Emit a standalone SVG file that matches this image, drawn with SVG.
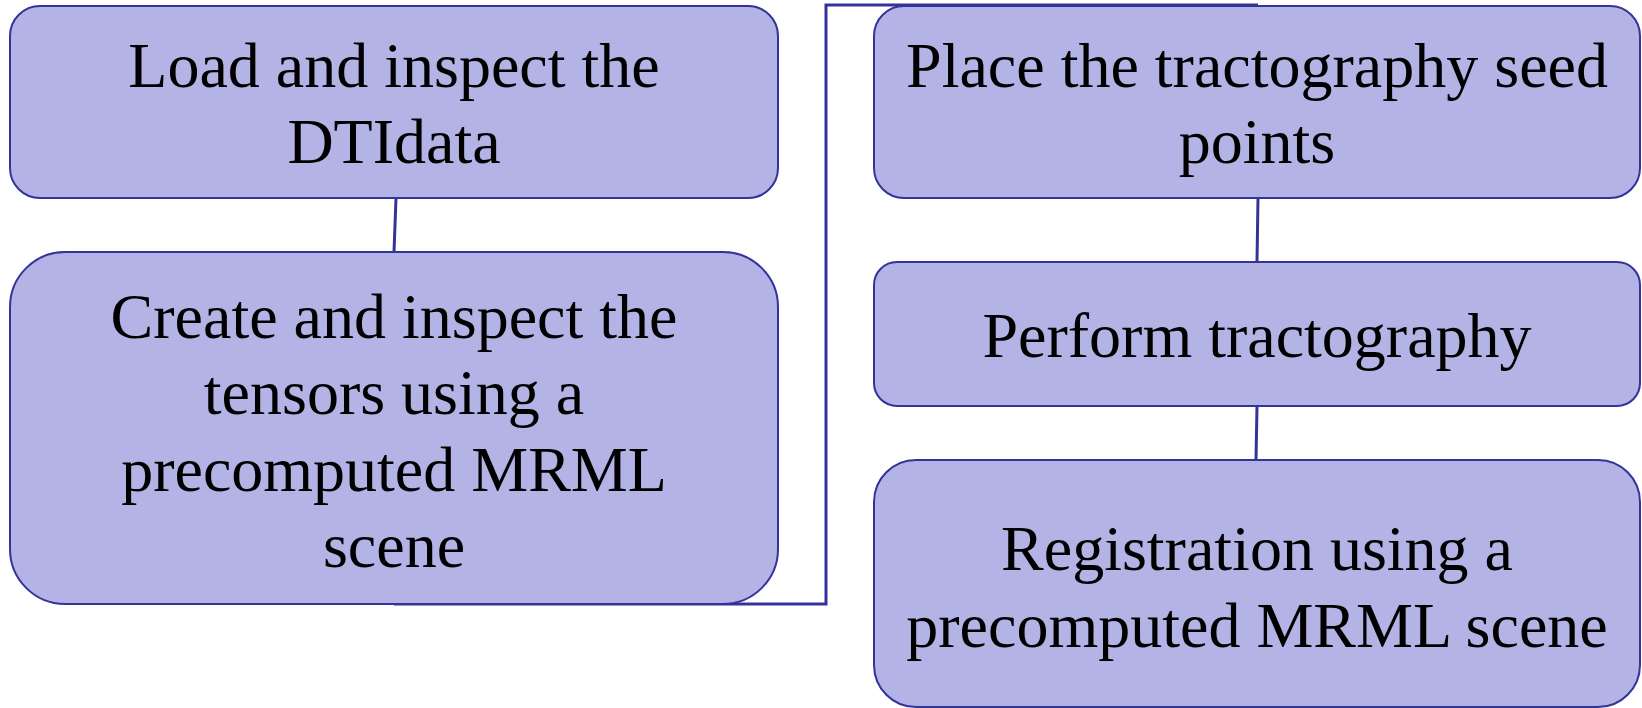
<svg xmlns="http://www.w3.org/2000/svg" width="1642" height="708" viewBox="0 0 1642 708">
<style>
.box{fill:#b3b3e6;stroke:#333399;stroke-width:2}
.lbl{font-family:"Liberation Serif","Times New Roman",serif;font-size:64px;fill:#000;text-anchor:middle}
.conn{fill:none;stroke:#333399;stroke-width:3}
</style>
<rect width="1642" height="708" fill="#fff"/>
<g id="connectors">
<path class="conn" d="M396 198 L394 252"/>
<path class="conn" d="M394 604 L826 604 L826 5 L1258 5"/>
<path class="conn" d="M1258 198 L1257 262"/>
<path class="conn" d="M1257 406 L1256 460"/>
</g>
<g id="n1">
<rect class="box" x="10" y="6" width="768" height="192" rx="30" ry="30"/>
<text class="lbl" x="394" y="87">Load and inspect the</text>
<text class="lbl" x="394" y="163">DTIdata</text>
</g>
<g id="n2">
<rect class="box" x="10" y="252" width="768" height="352" rx="55" ry="55"/>
<text class="lbl" x="394" y="338">Create and inspect the</text>
<text class="lbl" x="394" y="414">tensors using a</text>
<text class="lbl" x="394" y="491">precomputed MRML</text>
<text class="lbl" x="394" y="567">scene</text>
</g>
<g id="n3">
<rect class="box" x="874" y="6" width="766" height="192" rx="30" ry="30"/>
<text class="lbl" x="1257" y="87">Place the tractography seed</text>
<text class="lbl" x="1257" y="163">points</text>
</g>
<g id="n4">
<rect class="box" x="874" y="262" width="766" height="144" rx="23" ry="23"/>
<text class="lbl" x="1257" y="357">Perform tractography</text>
</g>
<g id="n5">
<rect class="box" x="874" y="460" width="766" height="247" rx="42" ry="42"/>
<text class="lbl" x="1257" y="570">Registration using a</text>
<text class="lbl" x="1257" y="647">precomputed MRML scene</text>
</g>
</svg>
